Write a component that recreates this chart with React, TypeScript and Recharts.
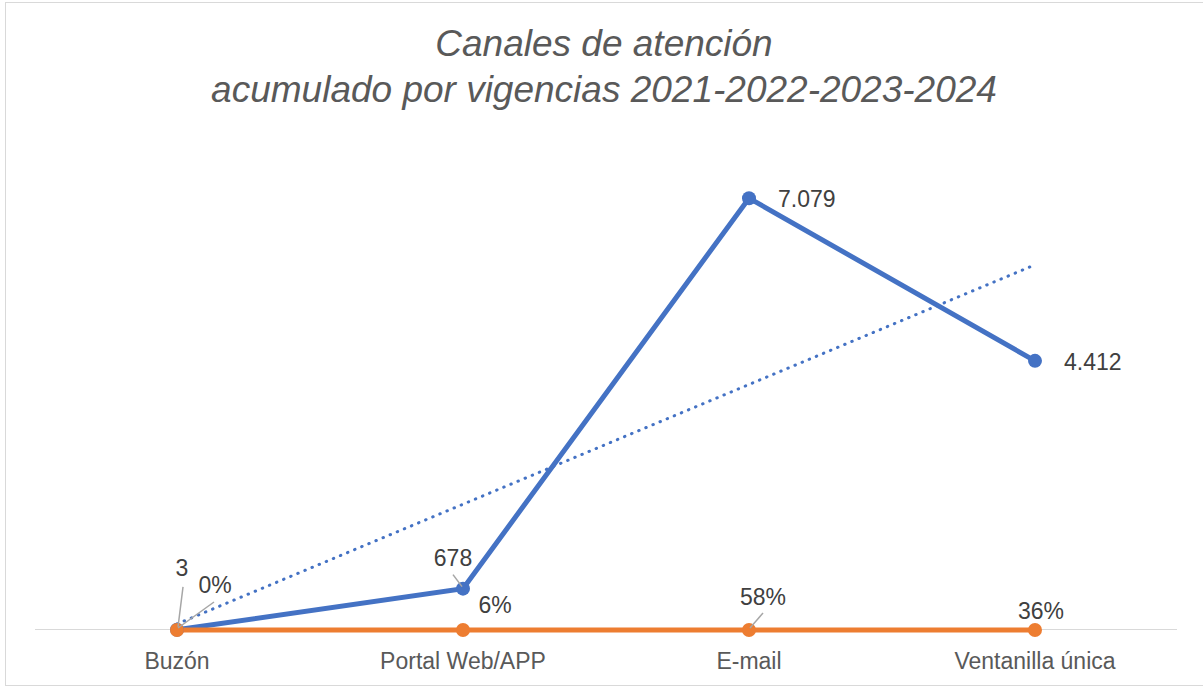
import React from "react";
import { ComposedChart, Line, XAxis, YAxis } from "recharts";

const categories = ["Buzón", "Portal Web/APP", "E-mail", "Ventanilla única"];
const totals = [3, 678, 7079, 4412];
const shares = [0.0, 0.06, 0.58, 0.36];
const shareLabels = ["0%", "6%", "58%", "36%"];
const trendValues = [99, 2062, 4025, 5987];

const data = categories.map((name, i) => ({
  name,
  total: totals[i],
  share: shares[i],
  trend: trendValues[i],
}));

const FONT = "'Liberation Sans', Arial, sans-serif";
const BLUE = "#4472C4";
const ORANGE = "#ED7D31";
const LABEL_COLOR = "#404040";
const LEADER = "#A6A6A6";

// label placement (relative to the point): text center dx/dy, anchor, optional leader line
const blueLabelPos = [
  { dx: 5, dy: -62, anchor: "middle", leader: [6, -43, 1, -3] },
  { dx: -10, dy: -31, anchor: "middle", leader: [-10, -14, -1, -2] },
  { dx: 29, dy: 1, anchor: "start", leader: null },
  { dx: 29, dy: 1, anchor: "start", leader: null },
];
const orangeLabelPos = [
  { dx: 38, dy: -45, anchor: "middle", leader: [37, -28, 1, -2] },
  { dx: 32, dy: -25, anchor: "middle", leader: null },
  { dx: 14, dy: -33, anchor: "middle", leader: [14, -17, 1, -2] },
  { dx: 6, dy: -19, anchor: "middle", leader: null },
];

const fmtThousands = (v: number) => v.toLocaleString("de-DE");

function makeLabel(pos: any[], texts: (i: number, v: any) => string) {
  return (props: any) => {
    const { x, y, index, value } = props;
    const p = pos[index];
    if (!p || x == null || y == null) return null;
    return (
      <g key={`lbl-${index}`}>
        {p.leader && (
          <line
            x1={x + p.leader[0]}
            y1={y + p.leader[1]}
            x2={x + p.leader[2]}
            y2={y + p.leader[3]}
            stroke={LEADER}
            strokeWidth={1.5}
          />
        )}
        <text
          x={x + p.dx}
          y={y + p.dy + 8.2}
          textAnchor={p.anchor}
          fontFamily={FONT}
          fontSize={23}
          fill={LABEL_COLOR}
        >
          {texts(index, value)}
        </text>
      </g>
    );
  };
}

const renderTick = (props: any) => {
  const { x, y, payload } = props;
  return (
    <text
      x={x}
      y={y + 37}
      textAnchor="middle"
      fontFamily={FONT}
      fontSize={23}
      fill="#595959"
    >
      {payload.value}
    </text>
  );
};

export default function App() {
  return (
    <div
      style={{
        position: "absolute",
        left: 0,
        top: 0,
        width: 1203,
        height: 688,
        background: "#fff",
        fontFamily: FONT,
      }}
    >
      <div
        style={{
          position: "absolute",
          left: 5,
          top: 2,
          width: 1200,
          height: 684,
          border: "1.5px solid #D9D9D9",
          boxSizing: "border-box",
        }}
      />
      {/* category axis baseline, painted beneath the series */}
      <div
        style={{
          position: "absolute",
          left: 35,
          top: 629,
          width: 1142,
          height: 0,
          borderTop: "1.5px solid #D9D9D9",
        }}
      />
      <div
        style={{
          position: "absolute",
          left: 5,
          width: 1198,
          top: 21,
          textAlign: "center",
          fontStyle: "italic",
          fontSize: 37,
          lineHeight: "46px",
          color: "#595959",
          whiteSpace: "nowrap",
        }}
      >
        <div>Canales de atención</div>
        <div>acumulado por vigencias 2021-2022-2023-2024</div>
      </div>
      <div style={{ position: "absolute", left: 0, top: 0 }}>
        <ComposedChart
          width={1203}
          height={688}
          data={data}
          margin={{ top: 142, right: 26, left: 35, bottom: 0 }}
        >
          <XAxis
            dataKey="name"
            height={58}
            tickLine={false}
            tickSize={0}
            axisLine={false}
            tick={renderTick}
            interval={0}
            padding={{ left: 142, right: 142 }}
          />
          <YAxis hide domain={[0, 8000]} />
          <Line
            dataKey="trend"
            stroke={BLUE}
            strokeWidth={3}
            strokeDasharray="0.5 7.2"
            strokeLinecap="round"
            dot={false}
            activeDot={false}
            isAnimationActive={false}
          />
          <Line
            dataKey="total"
            stroke={BLUE}
            strokeWidth={5}
            dot={{ r: 7, fill: BLUE, stroke: BLUE, strokeWidth: 0 }}
            activeDot={false}
            isAnimationActive={false}
            label={makeLabel(blueLabelPos, (i) => fmtThousands(totals[i]))}
          />
          <Line
            dataKey="share"
            stroke={ORANGE}
            strokeWidth={5}
            dot={{ r: 7, fill: ORANGE, stroke: ORANGE, strokeWidth: 0 }}
            activeDot={false}
            isAnimationActive={false}
            label={makeLabel(orangeLabelPos, (i) => shareLabels[i])}
          />
        </ComposedChart>
      </div>
    </div>
  );
}
